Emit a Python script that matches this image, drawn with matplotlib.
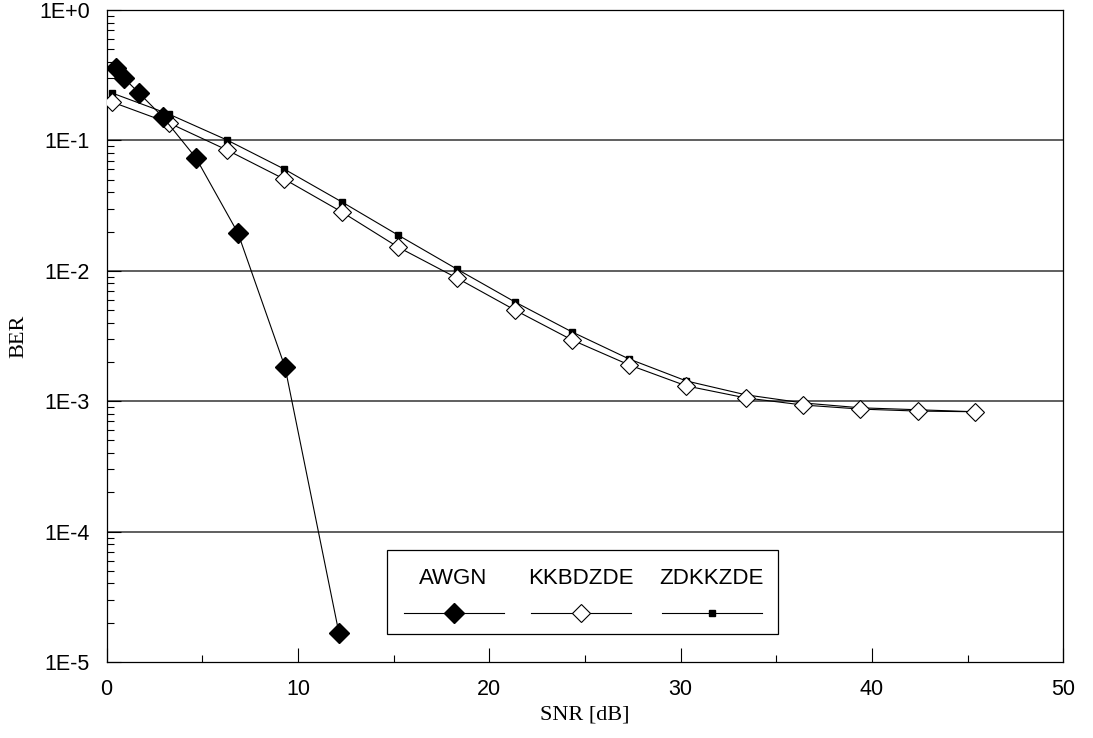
import matplotlib
matplotlib.use("Agg")
import matplotlib.pyplot as plt
from matplotlib.ticker import FixedLocator, LogLocator, NullFormatter, FixedFormatter
from matplotlib.lines import Line2D
from matplotlib.patches import Rectangle

# ---- data ----
awgn_snr = [0.49, 0.90, 1.69, 2.94, 4.67, 6.86, 9.32, 12.14]
awgn_ber = [0.359, 0.301, 0.231, 0.151, 0.0733, 0.0195, 0.00183, 1.67e-5]

kk_snr = [0.28, 3.26, 6.29, 9.27, 12.30, 15.23, 18.31, 21.34, 24.32, 27.3,
          30.3, 33.4, 36.4, 39.4, 42.4, 45.4]
kk_ber = [0.197, 0.136, 0.0844, 0.0506, 0.0282, 0.0152, 0.0088, 0.0050, 0.00295,
          0.0019, 0.00131, 0.00106, 0.000935, 0.00087, 0.00084, 0.00083]
zd_ber = [0.231, 0.159, 0.1007, 0.0604, 0.0337, 0.0188, 0.0103, 0.00577, 0.0034,
          0.00211, 0.00143, 0.00112, 0.00097, 0.00089, 0.00086, 0.00083]

series_names = ["AWGN", "KKBDZDE", "ZDKKZDE"]
y_ticks = [1e0, 1e-1, 1e-2, 1e-3, 1e-4, 1e-5]
y_tick_labels = ["1E+0", "1E-1", "1E-2", "1E-3", "1E-4", "1E-5"]
x_ticks = [0, 10, 20, 30, 40, 50]

sans = ["Liberation Sans", "DejaVu Sans"]
serif = ["Liberation Serif", "DejaVu Serif"]

fig = plt.figure(figsize=(10.93, 7.38), dpi=100)
ax = fig.add_axes([0.0976, 0.1030, 0.8752, 0.8834])
ax.set_yscale("log")
ax.set_xlim(0, 50)
ax.set_ylim(1e-5, 1)

for y in y_ticks[1:-1]:
    ax.axhline(y, color="#444444", lw=1.2, zorder=1)

lw = 0.8
ax.plot(kk_snr, zd_ber, color="black", lw=lw, marker="s", ms=4.5,
        mfc="black", mec="black", zorder=3)
ax.plot(kk_snr, kk_ber, color="black", lw=lw, marker="D", ms=9,
        mfc="white", mec="black", mew=0.8, zorder=4)
ax.plot(awgn_snr, awgn_ber, color="black", lw=lw, marker="D", ms=10.5,
        mfc="black", mec="black", zorder=5)

# ticks
ax.xaxis.set_major_locator(FixedLocator(x_ticks))
ax.xaxis.set_minor_locator(FixedLocator([5, 15, 25, 35, 45]))
ax.yaxis.set_major_locator(FixedLocator(y_ticks))
ax.yaxis.set_major_formatter(FixedFormatter(y_tick_labels))
ax.yaxis.set_minor_locator(LogLocator(base=10, subs=range(2, 10), numticks=20))
ax.yaxis.set_minor_formatter(NullFormatter())
ax.tick_params(axis="x", which="major", direction="in", length=10, width=0.8,
               pad=12, labelsize=15.5, top=False)
ax.tick_params(axis="x", which="minor", direction="in", length=5, width=0.8, top=False)
ax.tick_params(axis="y", which="major", direction="in", length=10, width=0.8,
               pad=12, labelsize=15.5, right=False)
ax.tick_params(axis="y", which="minor", direction="in", length=5, width=0.8, right=False)
for lab in ax.get_xticklabels() + ax.get_yticklabels():
    lab.set_fontfamily(sans)

for sp in ax.spines.values():
    sp.set_linewidth(0.9)

ax.set_xlabel("SNR [dB]", fontfamily=serif, fontsize=16)
ax.xaxis.set_label_coords(0.5, -0.066)
ax.set_ylabel("BER", fontfamily=serif, fontsize=16)
ax.yaxis.set_label_coords(-0.082, 0.5)

# legend (custom layout: label above sample line)
ax.add_patch(Rectangle((0.293, 0.0429), 0.4088, 0.1289, transform=ax.transAxes,
                       facecolor="white", edgecolor="black", lw=0.9, zorder=6))
text_x = [0.362, 0.4958, 0.6327]
seg = [(0.3108, 0.4153), (0.4436, 0.548), (0.5806, 0.6851)]
styles = [dict(marker="D", ms=10, mfc="black", mec="black"),
          dict(marker="D", ms=9, mfc="white", mec="black", mew=0.8),
          dict(marker="s", ms=4.5, mfc="black", mec="black")]
for name, tx, (a, b), st in zip(series_names, text_x, seg, styles):
    ax.text(tx, 0.1288, name, transform=ax.transAxes, ha="center", va="center",
            fontsize=16, fontfamily=sans, zorder=7)
    ax.add_line(Line2D([a, b], [0.0752, 0.0752], transform=ax.transAxes,
                       color="black", lw=0.8, zorder=7))
    ax.add_line(Line2D([(a + b) / 2], [0.0752], transform=ax.transAxes,
                       color="black", lw=0, zorder=8, **st))

fig.savefig("out.png", dpi=100)
